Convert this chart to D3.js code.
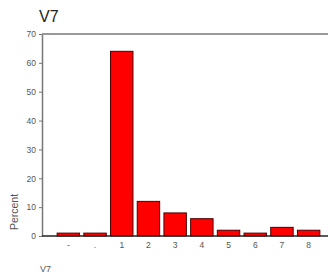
<!DOCTYPE html>
<html>
<head>
<meta charset="utf-8">
<script src="https://cdn.jsdelivr.net/npm/d3@7"></script>
<style>
  body { margin: 0; background: #fff; }
  svg { font-family: "Liberation Sans", Arial, sans-serif; }
</style>
</head>
<body>
<div class="chart"></div>
<script>
// values
var categories = ["-", ".", "1", "2", "3", "4", "5", "6", "7", "8"];
var percents = [1, 1, 64, 12, 8, 6, 2, 1, 3, 2];
var yTicks = [0, 10, 20, 30, 40, 50, 60, 70];

var width = 328, height = 279;
var plotLeft = 42, plotRight = 328, plotTop = 34, plotBottom = 236;

var svg = d3.select(".chart").append("svg")
    .attr("width", width)
    .attr("height", height);

var x = d3.scaleBand()
    .domain(categories)
    .range([55, 322])
    .paddingInner(0.16)
    .paddingOuter(0.08);

var y = d3.scaleLinear()
    .domain([0, 70])
    .range([plotBottom, plotTop]);

// title
svg.append("text")
    .attr("x", 39)
    .attr("y", 22)
    .style("font-size", "16px")
    .style("fill", "#222")
    .text("V7");

// top frame line
svg.append("line")
    .attr("x1", plotLeft).attr("x2", plotRight)
    .attr("y1", plotTop).attr("y2", plotTop)
    .attr("stroke", "#777")
    .attr("stroke-width", 1.5);

// y axis
var yAxis = svg.append("g")
    .attr("transform", "translate(" + plotLeft + ",0)")
    .call(d3.axisLeft(y).tickValues(yTicks).tickSize(3).tickSizeOuter(0));
yAxis.select(".domain").attr("stroke", "#777").attr("stroke-width", 1.5);
yAxis.selectAll(".tick line").attr("stroke", "#777");
yAxis.selectAll(".tick text")
    .attr("x", -6)
    .attr("fill", "#555")
    .style("font-size", "8.5px")
    .style("font-family", "Liberation Sans, Arial, sans-serif");

// bars
svg.selectAll(".bar")
    .data(percents)
    .enter()
    .append("rect")
    .attr("class", "bar")
    .attr("x", function(d, i) { return x(categories[i]); })
    .attr("y", function(d) { return y(d); })
    .attr("width", x.bandwidth())
    .attr("height", function(d) { return plotBottom - y(d); })
    .attr("fill", "#ff0000")
    .attr("stroke", "#4a0000")
    .attr("stroke-width", 1);

// x axis
var xAxis = svg.append("g")
    .attr("transform", "translate(0," + plotBottom + ")")
    .call(d3.axisBottom(x).tickSize(0).tickSizeOuter(0));
xAxis.select(".domain").remove();
svg.append("line")
    .attr("x1", plotLeft).attr("x2", plotRight)
    .attr("y1", plotBottom).attr("y2", plotBottom)
    .attr("stroke", "#222")
    .attr("stroke-width", 1.5);
xAxis.selectAll(".tick text")
    .attr("dy", "1.1em")
    .attr("fill", "#555")
    .style("font-size", "8.5px")
    .style("font-family", "Liberation Sans, Arial, sans-serif");

// y axis label
svg.append("text")
    .attr("transform", "translate(18,212) rotate(-90)")
    .style("text-anchor", "middle")
    .style("font-size", "10.5px")
    .style("fill", "#555")
    .text("Percent");

// x axis label
svg.append("text")
    .attr("x", 40)
    .attr("y", 272)
    .style("font-size", "9px")
    .style("fill", "#555")
    .text("V7");
</script>
</body>
</html>
